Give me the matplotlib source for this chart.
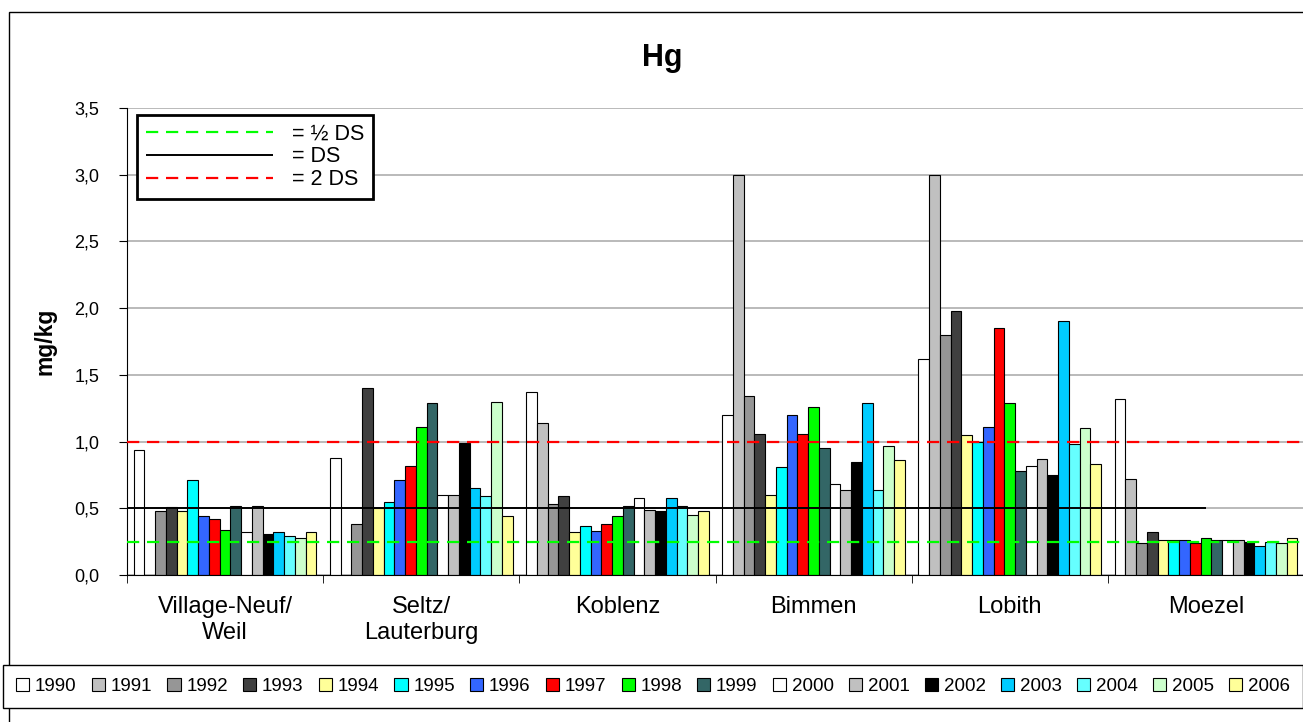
import numpy as np
import matplotlib
matplotlib.use('Agg')
import matplotlib.pyplot as plt
from matplotlib.patches import Rectangle

plt.rcParams['font.family'] = ['Liberation Sans', 'DejaVu Sans']

#%% data (mg/kg Hg)
nan = np.nan
years = ['1990', '1991', '1992', '1993', '1994', '1995', '1996', '1997', '1998',
         '1999', '2000', '2001', '2002', '2003', '2004', '2005', '2006']
stations = ['Village-Neuf/\nWeil', 'Seltz/\nLauterburg', 'Koblenz', 'Bimmen', 'Lobith', 'Moezel']

village = [0.94, nan, 0.48, 0.51, 0.48, 0.71, 0.44, 0.42, 0.34, 0.52, 0.32, 0.52, 0.31, 0.32, 0.29, 0.28, 0.32]
seltz = [0.88, nan, 0.38, 1.40, 0.50, 0.55, 0.71, 0.82, 1.11, 1.29, 0.60, 0.60, 0.99, 0.65, 0.59, 1.30, 0.44]
koblenz = [1.37, 1.14, 0.53, 0.59, 0.32, 0.37, 0.33, 0.38, 0.44, 0.52, 0.58, 0.49, 0.48, 0.58, 0.52, 0.45, 0.48]
bimmen = [1.20, 3.00, 1.34, 1.06, 0.60, 0.81, 1.20, 1.06, 1.26, 0.95, 0.68, 0.64, 0.85, 1.29, 0.64, 0.97, 0.86]
lobith = [1.62, 3.00, 1.80, 1.98, 1.05, 1.00, 1.11, 1.85, 1.29, 0.78, 0.82, 0.87, 0.75, 1.90, 0.98, 1.10, 0.83]
moezel = [1.32, 0.72, 0.24, 0.32, 0.26, 0.26, 0.26, 0.24, 0.28, 0.26, 0.26, 0.26, 0.25, 0.22, 0.25, 0.24, 0.28]

ds = 0.5
half_ds = 0.25
double_ds = 1.0

year_colors = ['#FFFFFF', '#C0C0C0', '#969696', '#404040', '#FFFF99', '#00FFFF', '#3366FF',
               '#FF0000', '#00FF00', '#336666', '#FFFFFF', '#C0C0C0', '#000000', '#00CCFF',
               '#66FFFF', '#CCFFCC', '#FFFF99']

#%% figure
W, H = 1303, 722
fig = plt.figure(figsize=(W / 100, H / 100), dpi=100)
fig.set_facecolor('white')
ax = fig.add_axes([127 / W, (H - 575) / H, 1177 / W, 467 / H])

table = np.array([village, seltz, koblenz, bimmen, lobith, moezel])
x = np.arange(len(stations))
width = 0.0548

bars = []
for j, year in enumerate(years):
    b = ax.bar(x + (j - 8) * width, table[:, j], width, color=year_colors[j],
               edgecolor='black', linewidth=0.8, zorder=2, label=year)
    bars.append(b)

# reference lines
green = ax.axhline(half_ds, color='#00FF00', lw=1.6, dashes=(5.5, 3.5), zorder=3)
black = ax.hlines(ds, -0.5, 5.0, color='black', lw=1.4, zorder=3)
red = ax.axhline(double_ds, color='#FF0000', lw=1.6, dashes=(5.5, 3.5), zorder=3)

ax.set_xlim(-0.5, 5.5)
ax.set_ylim(0, 3.5)
yt = np.arange(0, 3.51, 0.5)
ax.set_yticks(yt)
ax.set_yticklabels([f'{v:.1f}'.replace('.', ',') for v in yt], fontsize=13)
ax.yaxis.grid(True, color='#B4B4B4', lw=1.3, zorder=0)
ax.set_axisbelow(True)

ax.set_xticks(x)
ax.set_xticklabels(stations, fontsize=17, linespacing=1.25)
ax.set_xticks(np.arange(-0.5, 5.6, 1), minor=True)
ax.tick_params(axis='x', which='major', length=0, pad=15)
ax.tick_params(axis='x', which='minor', length=6, direction='out', color='black')
ax.tick_params(axis='y', length=6, direction='out', pad=14)

for s in ['top', 'right']:
    ax.spines[s].set_visible(False)
ax.spines['left'].set_color('black')
ax.spines['bottom'].set_color('black')

ax.set_ylabel('mg/kg', fontsize=16.5, fontweight='bold', labelpad=13)
fig.text(662 / W, 1 - 58 / H, 'Hg', ha='center', va='center', fontsize=22, fontweight='bold')

# DS legend
leg = ax.legend([green, black, red], ['= ½ DS', '= DS', '= 2 DS'], loc='upper left',
                bbox_to_anchor=(137 / W, 1 - 115 / H), bbox_transform=fig.transFigure,
                borderaxespad=0, handlelength=5.9, handletextpad=0.9, labelspacing=0.08,
                fancybox=False, edgecolor='black', framealpha=1, fontsize=15.5, borderpad=0.4)
leg.get_frame().set_linewidth(2)

# year legend
leg2 = fig.legend(bars, years, loc='center', ncol=17, mode='expand',
                  bbox_to_anchor=(3 / W, 1 - 709 / H, 1300 / W, 45 / H), bbox_transform=fig.transFigure,
                  borderaxespad=0, handlelength=0.7, handleheight=0.7, handletextpad=0.3,
                  columnspacing=0.4, fancybox=False, edgecolor='black', framealpha=1,
                  fontsize=13.5, borderpad=0.7)
leg2.get_frame().set_linewidth(1)

# chart border
fig.add_artist(Rectangle((9 / W, -0.5), 2, 1.5 - 12 / H, transform=fig.transFigure,
                         fill=False, ec='black', lw=1))

fig.savefig('out.png', dpi=100)
